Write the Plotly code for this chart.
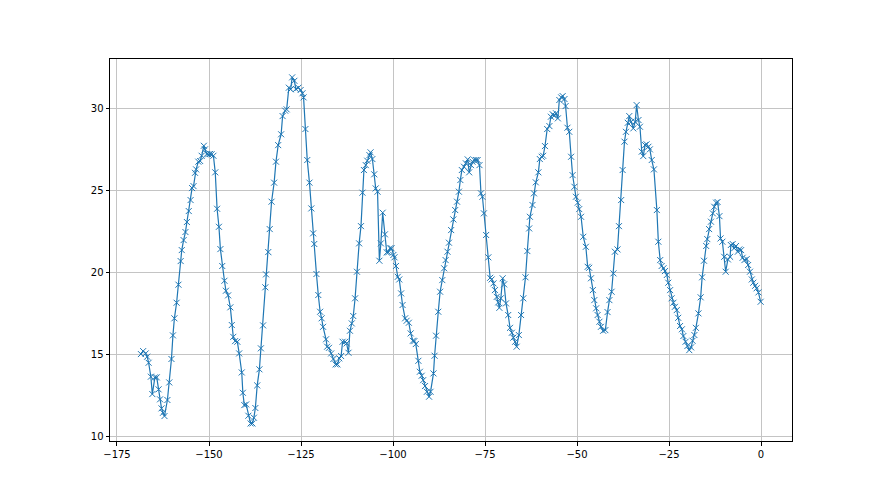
import plotly.graph_objects as go

x_vals = [
    -168.5, -167.9, -167.2, -166.8, -166.4, -165.8, -165.4, -164.7, -164.2, -163.7,
    -163.3, -162.9, -162.5, -162.1, -161.3, -160.8, -160.2, -159.8, -159.4, -158.8,
    -158.3, -157.7, -157.4, -156.9, -156.4, -156.0, -155.5, -155.0, -154.6, -154.2,
    -153.8, -153.5, -152.9, -152.4, -152.0, -151.4, -151.1, -150.6, -150.2, -149.7,
    -149.3, -148.8, -148.3, -147.8, -147.3, -146.9, -146.4, -145.8, -145.4, -144.8,
    -144.2, -143.8, -143.4, -142.9, -142.3, -141.8, -141.1, -140.8, -140.4, -139.9,
    -139.3, -138.7, -138.2, -137.8, -137.4, -136.9, -136.3, -135.9, -135.3, -134.7,
    -134.5, -133.9, -133.5, -133.0, -132.3, -131.8, -131.2, -130.4, -130.0, -129.3,
    -128.9, -128.3, -127.8, -127.4, -126.8, -126.4, -125.7, -125.1, -124.6, -124.3,
    -123.8, -123.3, -122.7, -122.2, -121.7, -121.4, -120.8, -120.3, -119.8, -119.4,
    -119.0, -118.2, -117.9, -117.4, -116.8, -116.2, -115.6, -115.1, -114.6, -114.1,
    -113.7, -113.0, -112.6, -112.1, -111.7, -111.2, -110.8, -110.3, -109.8, -109.2,
    -108.7, -108.3, -107.9, -107.4, -107.0, -106.4, -106.1, -105.6, -105.1, -104.7,
    -104.2, -103.7, -103.3, -102.8, -102.2, -101.7, -101.3, -100.8, -100.4, -99.9,
    -99.6, -99.2, -98.7, -98.3, -97.8, -97.4, -96.7, -96.3, -95.7, -95.2,
    -94.6, -94.2, -93.8, -93.1, -92.7, -92.2, -91.8, -91.3, -90.8, -90.2,
    -89.8, -89.0, -88.7, -88.3, -87.7, -87.2, -86.6, -86.1, -85.7, -85.2,
    -84.8, -84.2, -83.6, -83.1, -82.6, -82.1, -81.7, -81.3, -80.7, -80.2,
    -79.7, -79.3, -78.8, -78.4, -77.9, -77.4, -77.0, -76.5, -76.1, -75.7,
    -75.3, -74.7, -74.1, -73.6, -73.2, -72.7, -72.3, -71.8, -71.4, -71.1,
    -70.7, -70.2, -69.8, -69.3, -68.7, -68.2, -67.7, -67.3, -66.8, -66.4,
    -65.8, -65.2, -64.6, -64.0, -63.5, -63.0, -62.8, -62.1, -61.7, -61.2,
    -60.5, -60.1, -59.6, -59.2, -58.7, -58.1, -57.5, -57.1, -56.6, -56.2,
    -55.7, -55.2, -54.8, -54.3, -53.9, -53.4, -53.1, -52.6, -52.1, -51.6,
    -51.2, -50.7, -50.3, -49.8, -49.4, -48.9, -48.3, -47.6, -47.1, -46.7,
    -46.2, -45.7, -45.3, -44.8, -44.4, -43.9, -43.5, -42.9, -42.3, -41.7,
    -41.2, -40.6, -40.1, -39.7, -39.0, -38.6, -38.0, -37.6, -37.1, -36.7,
    -36.2, -35.8, -35.3, -34.7, -34.2, -33.8, -33.3, -32.9, -32.4, -32.0,
    -31.5, -31.1, -30.6, -30.2, -29.7, -29.1, -28.3, -27.9, -27.4, -27.0,
    -26.5, -26.1, -25.6, -25.2, -24.7, -24.3, -23.8, -23.4, -22.9, -22.5,
    -22.0, -21.5, -21.1, -20.5, -20.0, -19.5, -19.0, -18.6, -18.1, -17.7,
    -17.0, -16.4, -16.0, -15.5, -14.9, -14.6, -14.1, -13.6, -13.1, -12.7,
    -12.2, -11.8, -11.3, -11.0, -10.5, -10.0, -9.6, -9.0, -8.4, -8.2,
    -7.7, -7.3, -6.8, -6.3, -5.9, -5.4, -5.0, -4.5, -3.9, -3.5,
    -3.0, -2.5, -2.1, -1.6, -1.2, -0.7, -0.1,
]

y_vals = [
    15.00, 15.18, 15.04, 14.84, 14.47, 13.62, 12.56, 13.58, 13.58, 12.85,
    12.24, 11.69, 11.42, 11.22, 12.20, 13.27, 14.70, 16.14, 17.18, 18.13,
    19.23, 20.67, 21.34, 21.95, 22.44, 23.05, 23.72, 24.39, 25.12, 25.24,
    26.05, 26.26, 26.73, 26.77, 27.09, 27.70, 27.48, 27.20, 27.18, 27.20,
    27.18, 27.09, 26.08, 23.86, 22.76, 21.40, 20.37, 19.47, 18.86, 18.58,
    17.85, 16.77, 16.05, 15.79, 15.75, 15.04, 13.88, 12.64, 11.89, 11.93,
    11.24, 10.77, 10.77, 11.12, 11.71, 13.09, 14.07, 15.35, 16.75, 19.07,
    19.86, 21.22, 22.62, 24.29, 25.45, 26.73, 27.74, 28.40, 29.51, 29.84,
    29.92, 31.24, 31.14, 31.87, 31.66, 31.16, 31.24, 31.10, 30.90, 30.65,
    28.72, 26.83, 25.45, 23.88, 22.36, 21.71, 19.88, 18.60, 17.58, 17.18,
    16.66, 15.90, 15.45, 15.38, 15.04, 14.70, 14.37, 14.37, 14.74, 14.88,
    15.75, 15.75, 15.65, 15.08, 16.42, 16.87, 17.32, 18.40, 20.02, 21.75,
    22.80, 24.84, 26.22, 26.52, 26.79, 27.13, 27.30, 26.89, 25.96, 25.10,
    24.90, 20.69, 21.75, 23.62, 22.30, 21.20, 21.20, 21.45, 21.45, 21.04,
    20.90, 20.37, 19.71, 19.55, 18.70, 17.99, 17.18, 17.03, 16.91, 16.26,
    15.81, 15.79, 15.61, 14.59, 13.92, 13.68, 13.41, 13.05, 12.70, 12.40,
    12.70, 13.82, 14.90, 16.12, 17.58, 18.80, 19.51, 20.23, 20.73, 21.24,
    21.79, 22.56, 23.21, 23.78, 24.29, 24.90, 25.61, 26.22, 26.42, 26.63,
    26.87, 26.08, 26.52, 26.73, 26.83, 26.83, 26.83, 26.52, 24.80, 24.59,
    23.58, 22.26, 20.90, 19.65, 19.55, 19.31, 18.90, 18.49, 18.15, 17.82,
    18.40, 19.62, 19.25, 18.09, 17.38, 16.60, 16.30, 16.00, 15.75, 15.45,
    16.16, 17.38, 18.40, 19.68, 21.28, 22.66, 23.37, 24.09, 24.80, 25.47,
    26.08, 26.89, 27.03, 27.09, 27.68, 28.72, 28.90, 29.47, 29.62, 29.53,
    29.68, 29.37, 30.49, 30.65, 30.73, 30.55, 30.12, 28.80, 28.55, 27.03,
    25.91, 25.20, 24.59, 24.23, 23.84, 23.37, 22.15, 21.54, 20.32, 20.26,
    19.62, 18.90, 18.29, 17.79, 17.38, 16.97, 16.66, 16.42, 16.46, 17.56,
    18.29, 18.80, 19.92, 21.24, 21.38, 22.80, 24.39, 26.22, 27.95, 28.55,
    29.10, 29.51, 29.16, 28.76, 29.16, 30.18, 29.27, 28.86, 27.34, 27.07,
    27.74, 27.79, 27.64, 27.48, 26.83, 26.26, 23.78, 21.85, 20.73, 20.37,
    20.23, 20.06, 19.82, 19.35, 18.90, 18.40, 18.13, 17.88, 17.68, 17.21,
    16.71, 16.51, 16.10, 15.75, 15.49, 15.24, 15.41, 15.81, 16.16, 16.60,
    17.48, 18.46, 19.68, 20.69, 21.59, 22.01, 22.62, 23.07, 23.58, 23.98,
    24.23, 24.27, 23.41, 22.05, 21.85, 20.93, 20.02, 20.77, 20.93, 21.65,
    21.71, 21.45, 21.59, 21.24, 21.38, 21.34, 20.87, 20.73, 20.79, 20.43,
    20.02, 19.55, 19.35, 19.16, 19.01, 18.76, 18.19,
]

x_ticks = [-175, -150, -125, -100, -75, -50, -25, 0]
y_ticks = [10, 15, 20, 25, 30]

fig = go.Figure()
fig.add_trace(go.Scatter(
    x=x_vals, y=y_vals, mode="lines+markers",
    line=dict(color="#1f77b4", width=1.2),
    marker=dict(symbol="x-thin", size=6, color="#1f77b4",
                line=dict(color="#1f77b4", width=1)),
    showlegend=False,
))

axis_common = dict(
    showline=True, linecolor="black", linewidth=1, mirror=True,
    showgrid=True, gridcolor="#c4c4c4", gridwidth=0.8,
    ticks="outside", ticklen=3.5, tickwidth=1, tickcolor="black",
    zeroline=False,
    tickfont=dict(family="DejaVu Sans", size=10, color="black"),
)

fig.update_xaxes(range=[-176.9, 8.42], tickvals=x_ticks,
                 ticktext=[str(v).replace("-", "\u2212") for v in x_ticks], **axis_common)
fig.update_yaxes(range=[9.70, 32.99], tickvals=y_ticks,
                 ticktext=[str(v) for v in y_ticks], **axis_common)

fig.update_layout(
    width=880, height=495,
    margin=dict(l=102, r=96, t=51, b=62),
    paper_bgcolor="white", plot_bgcolor="white",
    font=dict(family="DejaVu Sans", size=10, color="black"),
)

fig.write_html("out.html")
